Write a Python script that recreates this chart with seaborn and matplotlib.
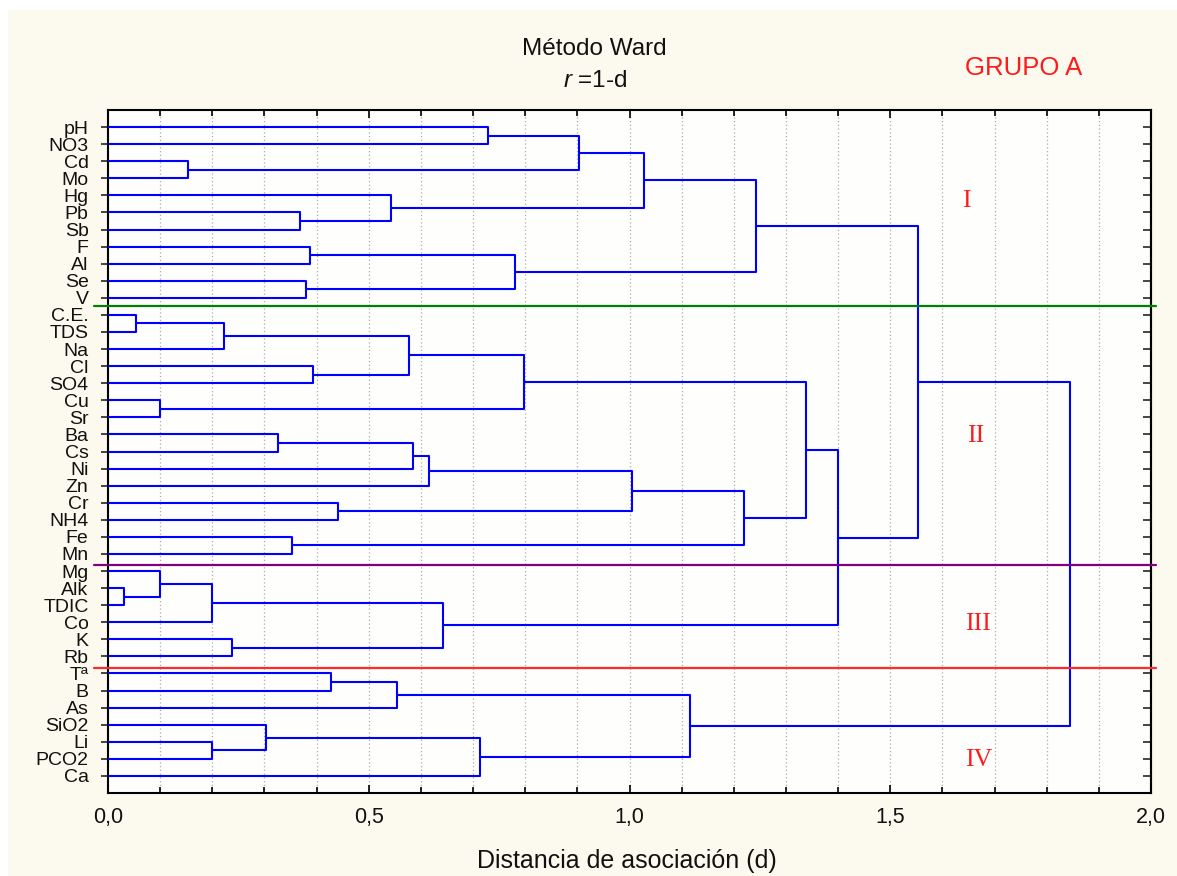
import numpy as np
import pandas as pd
import matplotlib
matplotlib.use("Agg")
import matplotlib.pyplot as plt
from matplotlib.patches import Rectangle
import seaborn as sns

# Leaf order of the dendrogram, top to bottom
leaves = ["pH", "NO3", "Cd", "Mo", "Hg", "Pb", "Sb", "F", "Al", "Se", "V",
          "C.E.", "TDS", "Na", "Cl", "SO4", "Cu", "Sr", "Ba", "Cs", "Ni", "Zn",
          "Cr", "NH4", "Fe", "Mn", "Mg", "Alk", "TDIC", "Co", "K", "Rb",
          "Tª", "B", "As", "SiO2", "Li", "PCO2", "Ca"]

# Ward linkage: merge k joins link_a[k] and link_b[k] (leaf name or index of an
# earlier merge) at association distance link_d[k]
link_a = ["pH", "Cd", 0, "Pb", "Hg", 2, "F", "Se", 6, 5,
          "C.E.", 10, "Cl", 11, "Cu", 13, "Ba", 16, 17, "Cr",
          18, "Fe", 20, 15, "Alk", "Mg", 25, "K", 26, 23,
          9, "Tª", 31, "Li", "SiO2", 34, 32, 30]
link_b = ["NO3", "Mo", 1, "Sb", 3, 4, "Al", "V", 7, 8,
          "TDS", "Na", "SO4", 12, "Sr", 14, "Cs", "Ni", "Zn", "NH4",
          19, "Mn", 21, 22, "TDIC", 24, "Co", "Rb", 27, 28,
          29, "B", "As", "PCO2", 33, "Ca", 35, 36]
link_d = [0.729, 0.154, 0.904, 0.368, 0.543, 1.027, 0.388, 0.380, 0.781, 1.242,
          0.054, 0.223, 0.394, 0.577, 0.100, 0.797, 0.326, 0.585, 0.616, 0.441,
          1.004, 0.353, 1.219, 1.338, 0.031, 0.100, 0.200, 0.238, 0.643, 1.400,
          1.553, 0.428, 0.554, 0.200, 0.303, 0.713, 1.116, 1.845]

# Group separators (leaf-position units) and their colours
cut_pos = [11.46, 26.63, 32.70]
cut_colors = ["#008000", "#800080", "#FF2A2A"]

group_names = ["I", "II", "III", "IV"]
group_x = [1.645, 1.664, 1.668, 1.670]
group_y = [5.66, 19.47, 30.48, 38.43]

x_ticks = [0.0, 0.5, 1.0, 1.5, 2.0]
x_ticklabels = ["0,0", "0,5", "1,0", "1,5", "2,0"]

# ---- build dendrogram segments ----
leaf_pos = {name: i + 1 for i, name in enumerate(leaves)}
node_y, node_d = [], []


def node(c):
    if isinstance(c, str):
        return leaf_pos[c], 0.0
    return node_y[c], node_d[c]


rows = []
for k, (a, b, d) in enumerate(zip(link_a, link_b, link_d)):
    ya, da = node(a)
    yb, db = node(b)
    for x, y in [(da, ya), (d, ya), (d, yb), (db, yb)]:
        rows.append({"link": k, "d": x, "pos": y})
    node_y.append((ya + yb) / 2.0)
    node_d.append(d)
seg = pd.DataFrame(rows)

# ---- style ----
sns.set_style("ticks")
plt.rcParams["font.family"] = ["Liberation Sans", "DejaVu Sans"]
plt.rcParams["mathtext.fontset"] = "custom"
plt.rcParams["mathtext.rm"] = "Liberation Sans"
plt.rcParams["mathtext.it"] = "Liberation Sans:italic"

W, H = 1177, 876
fig = plt.figure(figsize=(W / 100, H / 100), dpi=100, facecolor="white")
fig.patches.append(Rectangle((8 / W, 0), 1 - 8 / W, 1 - 10 / H,
                             transform=fig.transFigure, facecolor="#FCFAEF",
                             edgecolor="none", zorder=-10))
ax = fig.add_axes([108 / W, 1 - 793 / H, (1151 - 108) / W, (793 - 110) / H])
ax.set_facecolor("#FEFEFD")

sns.lineplot(data=seg, x="d", y="pos", units="link", estimator=None,
             sort=False, color="#0000FF", linewidth=1.5, legend=False, ax=ax,
             zorder=3)

ax.set_xlim(0, 2.0)
ax.set_ylim(40, 0)

# axes
ax.set_xticks(x_ticks)
ax.set_xticklabels(x_ticklabels, fontsize=15.5, color="#111111")
ax.set_xticks(np.arange(0.1, 2.0, 0.1), minor=True)
ax.tick_params(axis="x", which="both", direction="in", top=True, bottom=True,
               width=1.2, color="black", pad=10)
ax.tick_params(axis="x", which="major", length=6)
ax.tick_params(axis="x", which="minor", length=4)
ax.xaxis.grid(True, which="both", color="#ABABAB", linestyle=(0, (1, 2)),
              linewidth=0.9, zorder=0)
ax.yaxis.grid(False)

ax.set_yticks(range(1, len(leaves) + 1))
ax.set_yticklabels(leaves, fontsize=14, color="#111111")
ax.tick_params(axis="y", which="major", direction="out", left=True,
               right=False, length=5, width=1.2, pad=9)

sec = ax.secondary_yaxis("right")
sec.set_yticks(range(1, len(leaves) + 1))
sec.tick_params(axis="y", direction="in", length=5.5, width=1.2,
                labelright=False)
sec.spines["right"].set_linewidth(1.5)

for sp in ax.spines.values():
    sp.set_visible(True)
    sp.set_color("black")
    sp.set_linewidth(1.5)

ax.set_xlabel("")
ax.set_ylabel("")

# group separators
for yv, col in zip(cut_pos, cut_colors):
    ax.axhline(yv, xmin=-0.0134, xmax=1.0048, color=col, linewidth=1.6,
               clip_on=False, zorder=4)

# group labels
for name, gx, gy in zip(group_names, group_x, group_y):
    ax.text(gx, gy, name, color="#FF1A1A", fontsize=18.5, ha="center",
            va="baseline", family=["Liberation Serif", "DejaVu Serif"],
            zorder=5)

# titles
fig.text(594 / W, 1 - 55 / H, "Método Ward", ha="center", va="baseline",
         fontsize=17.5, color="#111111")
fig.text(595 / W, 1 - 87 / H, r"$\mathit{r}$ =1-d", ha="center",
         va="baseline", fontsize=17.5, color="#111111")
fig.text(1024 / W, 1 - 75 / H, "GRUPO A", ha="center", va="baseline",
         fontsize=18.5, color="#FF1A1A")
fig.text(627 / W, 1 - 868 / H, "Distancia de asociación (d)", ha="center",
         va="baseline", fontsize=18, color="#111111")

fig.savefig("out.png", dpi=100, facecolor=fig.get_facecolor())
